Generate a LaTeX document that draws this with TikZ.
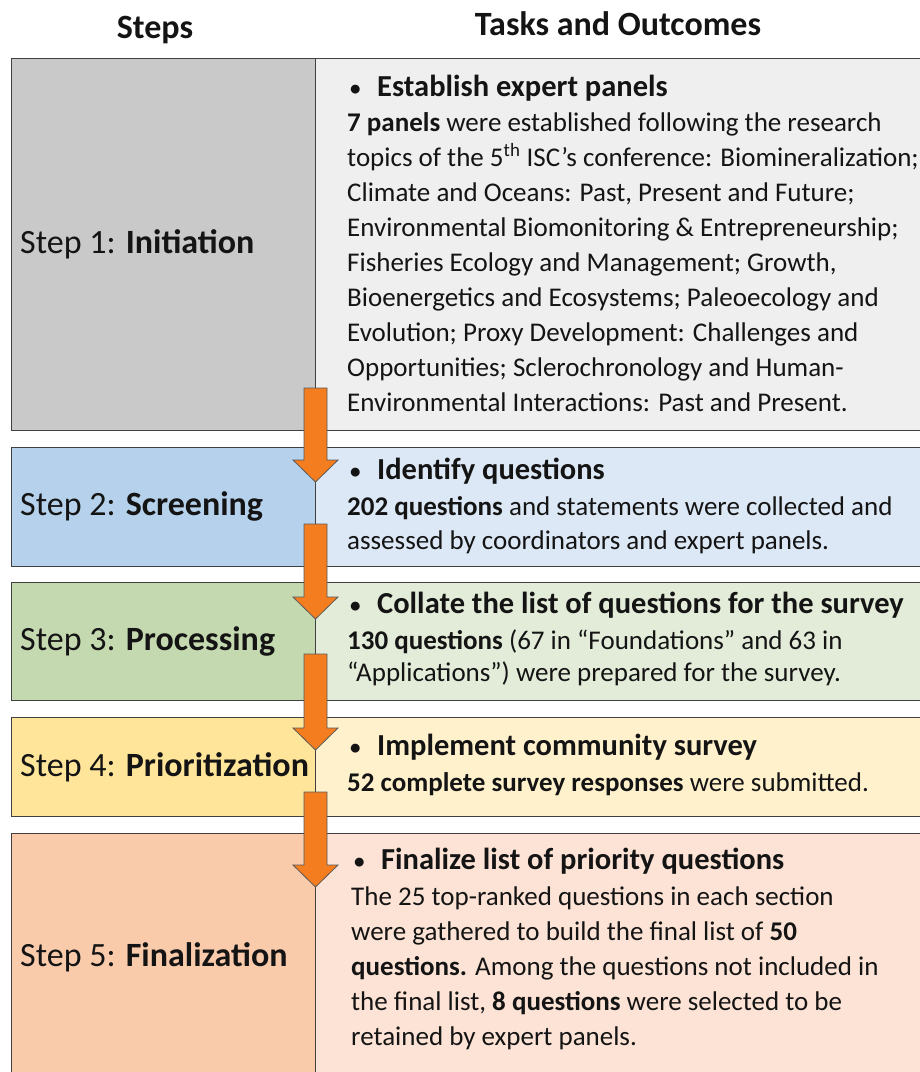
\documentclass[tikz,border=0pt]{standalone}
\usepackage{fontspec}
\setmainfont{Carlito}
\usetikzlibrary{calc}
\definecolor{frame}{HTML}{404040}
\definecolor{txt}{HTML}{141414}
\definecolor{arrowfill}{HTML}{F47D20}
\definecolor{arrowline}{HTML}{5A5A5A}
\definecolor{grayL}{HTML}{C9C9C9}
\definecolor{grayR}{HTML}{EFEFEF}
\definecolor{blueL}{HTML}{B5D1EB}
\definecolor{blueR}{HTML}{DCE8F5}
\definecolor{greenL}{HTML}{C5D9B0}
\definecolor{greenR}{HTML}{E3ECD9}
\definecolor{yellowL}{HTML}{FFE59A}
\definecolor{yellowR}{HTML}{FFF1CC}
\definecolor{peachL}{HTML}{F9CBAB}
\definecolor{peachR}{HTML}{FCE3D5}
\newcommand\bodyfont[1]{\fontsize{27}{#1}\selectfont}
\newcommand\bodytext[2]{\begin{minipage}[t]{580pt}\raggedright\bodyfont{#1}#2\end{minipage}}
\newcommand\hdbullet{\makebox[27pt][l]{\raisebox{1pt}{\fontsize{21}{21}\selectfont\textbullet}}}
\tikzset{
  cell/.style={draw=frame, line width=1.3pt, rectangle, inner sep=0pt, anchor=north west},
  steplabel/.style={anchor=base west, inner sep=0pt, text=txt, font=\fontsize{34}{40}\selectfont},
  taskhead/.style={anchor=base west, inner sep=0pt, text=txt, font=\fontsize{30.5}{36}\selectfont\bfseries},
  taskbody/.style={anchor=base west, inner sep=0pt, text=txt},
  colhead/.style={anchor=base, inner sep=0pt, text=txt, font=\fontsize{34}{40}\selectfont\bfseries},
  flow/.style={fill=arrowfill, draw=arrowline, line width=0.8pt, line join=miter},
}
% orange block arrow from shaft-top coordinate #1 to tip coordinate #2
\newcommand\flowarrow[2]{%
  \path[flow] ($(#1)+(-11.5,0)$) -- ($(#1)+(11.5,0)$) --
     ($(#2)+(11.5,-22)$) -- ($(#2)+(22.5,-22)$) -- (#2) --
     ($(#2)+(-22.5,-22)$) -- ($(#2)+(-11.5,-22)$) -- cycle;}
\begin{document}
\begin{tikzpicture}[x=1pt,y=-1pt]
\useasboundingbox (0,0) rectangle (920,1072);
\fill[white] (0,0) rectangle (920,1072);

% column headers
\node[colhead] (hsteps) at (155,38) {Steps};
\node[colhead] (htasks) at (618,35) {Tasks and Outcomes};

% step 1
\node[cell, fill=grayL, minimum width=304, minimum height=372] (s1) at (11,58) {};
\node[cell, fill=grayR, minimum width=612, minimum height=372] (t1) at (315,58) {};
% step 2
\node[cell, fill=blueL, minimum width=304, minimum height=119] (s2) at (11,447) {};
\node[cell, fill=blueR, minimum width=612, minimum height=119] (t2) at (315,447) {};
% step 3
\node[cell, fill=greenL, minimum width=304, minimum height=118] (s3) at (11,582) {};
\node[cell, fill=greenR, minimum width=612, minimum height=118] (t3) at (315,582) {};
% step 4
\node[cell, fill=yellowL, minimum width=304, minimum height=99] (s4) at (11,717) {};
\node[cell, fill=yellowR, minimum width=612, minimum height=99] (t4) at (315,717) {};
% step 5
\node[cell, fill=peachL, minimum width=304, minimum height=260] (s5) at (11,833) {};
\node[cell, fill=peachR, minimum width=612, minimum height=260] (t5) at (315,833) {};

% step labels
\node[steplabel] (l1) at (20,253) {Step 1: \textbf{Initiation}};
\node[steplabel] (l2) at (20,515) {Step 2: \textbf{Screening}};
\node[steplabel] (l3) at (20,650) {Step 3: \textbf{Processing}};
\node[steplabel] (l4) at (20,776) {Step 4: \textbf{Prioritization}};
\node[steplabel] (l5) at (20,966) {Step 5: \textbf{Finalization}};

% task headings
\node[taskhead] (h1) at (350,96) {\hdbullet Establish expert panels};
\node[taskhead] (h2) at (350,479) {\hdbullet Identify questions};
\node[taskhead] (h3) at (350,613) {\hdbullet Collate the list of questions for the survey};
\node[taskhead] (h4) at (350,755) {\hdbullet Implement community survey};
\node[taskhead] (h5) at (354,869) {\hdbullet Finalize list of priority questions};

% task bodies
\node[taskbody] (b1) at (347,131) {\bodytext{35pt}{%
\textbf{7 panels} were established following the research\\
topics of the 5\textsuperscript{th} ISC’s conference: Biomineralization;\\
Climate and Oceans: Past, Present and Future;\\
Environmental Biomonitoring \& Entrepreneurship;\\
Fisheries Ecology and Management; Growth,\\
Bioenergetics and Ecosystems; Paleoecology and\\
Evolution; Proxy Development: Challenges and\\
Opportunities; Sclerochronology and Human-\\
Environmental Interactions: Past and Present.}};
\node[taskbody] (b2) at (347,515) {\bodytext{34pt}{%
\textbf{202 questions} and statements were collected and\\
assessed by coordinators and expert panels.}};
\node[taskbody] (b3) at (347,649) {\bodytext{32pt}{%
\textbf{130 questions} (67 in “Foundations” and 63 in\\
“Applications”) were prepared for the survey.}};
\node[taskbody] (b4) at (347,791) {\bodytext{35pt}{%
\textbf{52 complete survey responses} were submitted.}};
\node[taskbody] (b5) at (351,905) {\bodytext{35pt}{%
The 25 top-ranked questions in each section\\
were gathered to build the final list of \textbf{50}\\
\textbf{questions.} Among the questions not included in\\
the final list, \textbf{8 questions} were selected to be\\
retained by expert panels.}};

% flow arrows between steps
\coordinate (a1s) at (315.5,388); \coordinate (a1t) at (315.5,482);
\coordinate (a2s) at (315.5,524); \coordinate (a2t) at (315.5,619);
\coordinate (a3s) at (315.5,654); \coordinate (a3t) at (315.5,750);
\coordinate (a4s) at (315.5,792); \coordinate (a4t) at (315.5,887);
\flowarrow{a1s}{a1t}
\flowarrow{a2s}{a2t}
\flowarrow{a3s}{a3t}
\flowarrow{a4s}{a4t}
\end{tikzpicture}
\end{document}
